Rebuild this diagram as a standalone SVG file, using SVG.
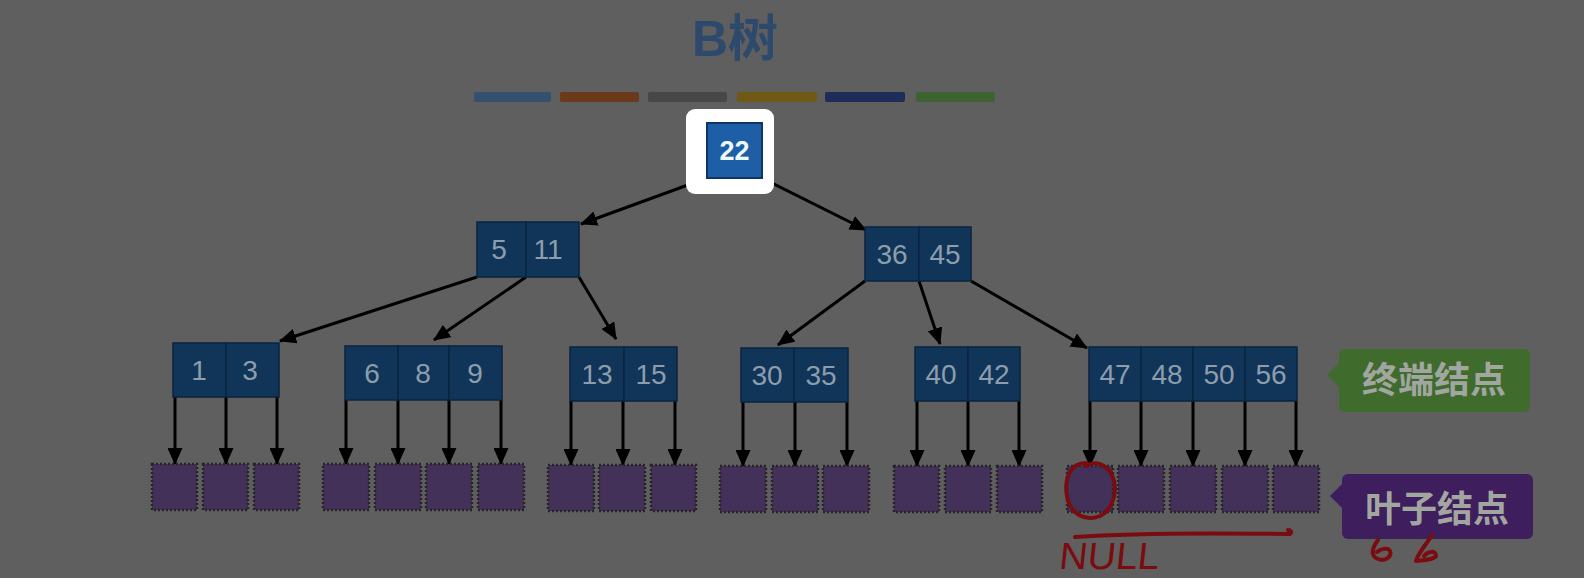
<svg xmlns="http://www.w3.org/2000/svg" width="1584" height="578" viewBox="0 0 1584 578">
<style>
  text { font-family: "Liberation Sans", "Noto Sans CJK SC", sans-serif; }
  .cell { fill: #103559; stroke: #0a2440; stroke-width: 1.5; }
  .num { font-size: 28px; fill: #8d9dab; text-anchor: middle; }
  .leaf { fill: #44315a; stroke: #262626; stroke-width: 2.5; stroke-dasharray: 2 2; }
  .conn { stroke: #000; stroke-width: 3; fill: none; marker-end: url(#ah); }
  .red { stroke: #7a0c10; stroke-width: 4; fill: none; stroke-linecap: round; stroke-linejoin: round; }
  .lbl { font-size: 36px; font-weight: bold; fill: #a2a6a0; text-anchor: middle; }
</style>
<defs>
  <marker id="ah" markerUnits="userSpaceOnUse" markerWidth="17" markerHeight="15" viewBox="0 0 17 15" refX="16" refY="7.5" orient="auto">
    <path d="M0,0 L17,7.5 L0,15 z" fill="#000"/>
  </marker>
</defs>
<rect width="1584" height="578" fill="#5f5f5f"/>

<g id="title">
  <text x="735" y="56" font-size="50" font-weight="bold" fill="#2d4a6d" text-anchor="middle">B树</text>
  <rect x="474" y="92" width="77" height="10" rx="2" fill="#34506e"/>
  <rect x="560" y="92" width="79" height="10" rx="2" fill="#6b3a1c"/>
  <rect x="648" y="92" width="79" height="10" rx="2" fill="#474747"/>
  <rect x="737" y="92" width="80" height="10" rx="2" fill="#6e5a15"/>
  <rect x="825" y="92" width="80" height="10" rx="2" fill="#1e2c5a"/>
  <rect x="916" y="92" width="79" height="10" rx="2" fill="#3e6330"/>
</g>

<g id="connectors">
  <line class="conn" x1="707" y1="178" x2="581" y2="224"/>
  <line class="conn" x1="762" y1="178" x2="866" y2="230"/>
  <line class="conn" x1="477" y1="277" x2="280" y2="341"/>
  <line class="conn" x1="526" y1="277" x2="434" y2="340"/>
  <line class="conn" x1="579" y1="277" x2="616" y2="339"/>
  <line class="conn" x1="865" y1="281" x2="778" y2="345"/>
  <line class="conn" x1="919" y1="281" x2="940" y2="344"/>
  <line class="conn" x1="971" y1="281" x2="1087" y2="348"/>
  <line class="conn" x1="175" y1="397" x2="175" y2="464"/>
  <line class="conn" x1="226" y1="397" x2="226" y2="464"/>
  <line class="conn" x1="277" y1="397" x2="277" y2="464"/>
  <line class="conn" x1="346" y1="400" x2="346" y2="464"/>
  <line class="conn" x1="398" y1="400" x2="398" y2="464"/>
  <line class="conn" x1="449" y1="400" x2="449" y2="464"/>
  <line class="conn" x1="501" y1="400" x2="501" y2="464"/>
  <line class="conn" x1="571" y1="401" x2="571" y2="465"/>
  <line class="conn" x1="623" y1="401" x2="623" y2="465"/>
  <line class="conn" x1="675" y1="401" x2="675" y2="465"/>
  <line class="conn" x1="743" y1="402" x2="743" y2="466"/>
  <line class="conn" x1="795" y1="402" x2="795" y2="466"/>
  <line class="conn" x1="847" y1="402" x2="847" y2="466"/>
  <line class="conn" x1="917" y1="401" x2="917" y2="466"/>
  <line class="conn" x1="968" y1="401" x2="968" y2="466"/>
  <line class="conn" x1="1019" y1="401" x2="1019" y2="466"/>
  <line class="conn" x1="1090" y1="401" x2="1090" y2="466"/>
  <line class="conn" x1="1141" y1="401" x2="1141" y2="466"/>
  <line class="conn" x1="1193" y1="401" x2="1193" y2="466"/>
  <line class="conn" x1="1245" y1="401" x2="1245" y2="466"/>
  <line class="conn" x1="1296" y1="401" x2="1296" y2="466"/>
</g>

<g id="root">
  <rect x="686" y="109" width="88" height="85" rx="9" fill="#ffffff"/>
  <rect x="707" y="123" width="55" height="55" fill="#1d5ea6" stroke="#0d3566" stroke-width="2"/>
  <text x="734.5" y="160" font-size="27" font-weight="bold" fill="#eef8ff" text-anchor="middle">22</text>
</g>

<g id="n-5-11">
  <rect class="cell" x="477" y="222" width="49" height="55"/>
  <rect class="cell" x="526" y="222" width="53" height="55"/>
  <text class="num" x="499" y="259">5</text>
  <text class="num" x="548" y="259">11</text>
</g>
<g id="n-36-45">
  <rect class="cell" x="865" y="227" width="54" height="54"/>
  <rect class="cell" x="919" y="227" width="52" height="54"/>
  <text class="num" x="892" y="264">36</text>
  <text class="num" x="945" y="264">45</text>
</g>

<g id="n-1-3">
  <rect class="cell" x="173" y="343" width="53" height="54"/>
  <rect class="cell" x="226" y="343" width="53" height="54"/>
  <text class="num" x="199" y="380">1</text>
  <text class="num" x="250" y="380">3</text>
</g>
<g id="n-6-8-9">
  <rect class="cell" x="345" y="346" width="53" height="54"/>
  <rect class="cell" x="398" y="346" width="51" height="54"/>
  <rect class="cell" x="449" y="346" width="53" height="54"/>
  <text class="num" x="372" y="383">6</text>
  <text class="num" x="423" y="383">8</text>
  <text class="num" x="475" y="383">9</text>
</g>
<g id="n-13-15">
  <rect class="cell" x="570" y="347" width="54" height="54"/>
  <rect class="cell" x="624" y="347" width="53" height="54"/>
  <text class="num" x="597" y="384">13</text>
  <text class="num" x="651" y="384">15</text>
</g>
<g id="n-30-35">
  <rect class="cell" x="741" y="348" width="53" height="54"/>
  <rect class="cell" x="794" y="348" width="54" height="54"/>
  <text class="num" x="767" y="385">30</text>
  <text class="num" x="821" y="385">35</text>
</g>
<g id="n-40-42">
  <rect class="cell" x="915" y="347" width="53" height="54"/>
  <rect class="cell" x="968" y="347" width="52" height="54"/>
  <text class="num" x="941" y="384">40</text>
  <text class="num" x="994" y="384">42</text>
</g>
<g id="n-47-48-50-56">
  <rect class="cell" x="1089" y="347" width="52" height="54"/>
  <rect class="cell" x="1141" y="347" width="52" height="54"/>
  <rect class="cell" x="1193" y="347" width="52" height="54"/>
  <rect class="cell" x="1245" y="347" width="52" height="54"/>
  <text class="num" x="1115" y="384">47</text>
  <text class="num" x="1167" y="384">48</text>
  <text class="num" x="1219" y="384">50</text>
  <text class="num" x="1271" y="384">56</text>
</g>

<g id="leaves">
  <rect class="leaf" x="152" y="464" width="45" height="46"/>
  <rect class="leaf" x="203" y="464" width="45" height="46"/>
  <rect class="leaf" x="254" y="464" width="45" height="46"/>
  <rect class="leaf" x="323" y="464" width="46" height="46"/>
  <rect class="leaf" x="375" y="464" width="46" height="46"/>
  <rect class="leaf" x="426" y="464" width="46" height="46"/>
  <rect class="leaf" x="478" y="464" width="46" height="46"/>
  <rect class="leaf" x="548" y="465" width="46" height="46"/>
  <rect class="leaf" x="599" y="465" width="46" height="46"/>
  <rect class="leaf" x="651" y="465" width="45" height="46"/>
  <rect class="leaf" x="720" y="466" width="46" height="46"/>
  <rect class="leaf" x="772" y="466" width="46" height="46"/>
  <rect class="leaf" x="823" y="466" width="46" height="46"/>
  <rect class="leaf" x="894" y="466" width="45" height="46"/>
  <rect class="leaf" x="945" y="466" width="46" height="46"/>
  <rect class="leaf" x="997" y="466" width="45" height="46"/>
  <rect class="leaf" x="1067" y="466" width="46" height="46"/>
  <rect class="leaf" x="1118" y="466" width="46" height="46"/>
  <rect class="leaf" x="1170" y="466" width="46" height="46"/>
  <rect class="leaf" x="1222" y="466" width="46" height="46"/>
  <rect class="leaf" x="1273" y="466" width="46" height="46"/>
</g>

<g id="label-terminal">
  <rect x="1339" y="349" width="191" height="63" rx="6" fill="#3f6b2d"/>
  <path d="M1340,362 L1327,375 L1340,388 z" fill="#3f6b2d"/>
  <text class="lbl" x="1434" y="393">终端结点</text>
</g>
<g id="label-leaf">
  <rect x="1342" y="474" width="191" height="65" rx="6" fill="#3e1e5c"/>
  <path d="M1343,483 L1330,496 L1343,509 z" fill="#3e1e5c"/>
  <text class="lbl" x="1437" y="522">叶子结点</text>
</g>

<g id="annotations">
  <path class="red" d="M1086,463 C1070,463 1064,479 1067,496 C1070,514 1085,522 1100,516 C1115,508 1118,488 1112,475 C1106,464 1095,460 1086,466"/>
  <path class="red" d="M1075,537 C1130,533 1220,533 1290,534 C1292,532 1291,530 1288,530"/>
  <text x="1058" y="569" font-size="38" fill="#7a0c10" textLength="100" lengthAdjust="spacingAndGlyphs" transform="skewX(-6) translate(60,0)">NULL</text>
  <path class="red" d="M1378,540 C1372,548 1370,556 1378,559 C1386,562 1392,556 1390,551 C1388,547 1380,549 1377,552"/>
  <path class="red" d="M1432,535 C1426,545 1418,553 1416,561 C1424,560 1433,560 1436,556 C1436,550 1428,551 1424,556"/>
</g>
</svg>
